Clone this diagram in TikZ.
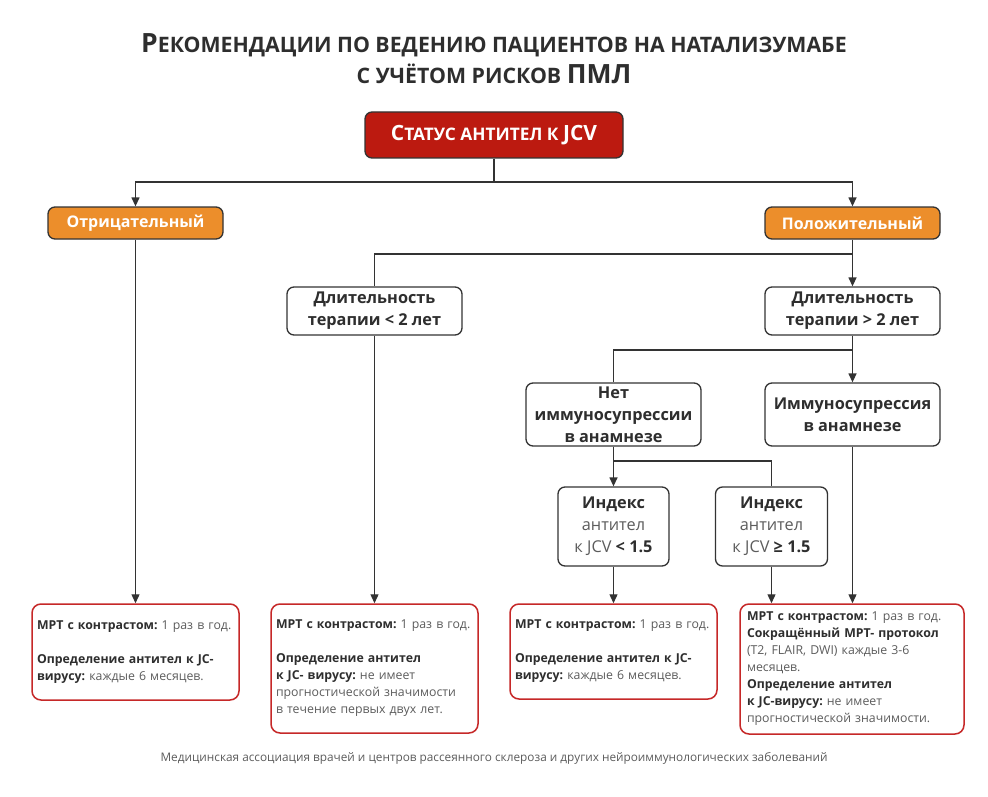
\documentclass[tikz,border=0pt]{standalone}
\usepackage{fontspec}
\setmainfont{Open Sans}
\usetikzlibrary{arrows.meta}
\definecolor{bdr}{HTML}{333333}
\definecolor{txt}{HTML}{2E2E2E}
\definecolor{gry}{HTML}{5C5C5C}
\definecolor{redfill}{HTML}{BC1A10}
\definecolor{orng}{HTML}{EC8E2B}
\definecolor{redbdr}{HTML}{C62828}
\frenchspacing
\begin{document}
\begin{tikzpicture}[x=1pt,y=-1pt,
  box/.style={draw=bdr,line width=1.3pt,rounded corners=7pt,fill=white,inner sep=0pt,align=center,text=txt,font=\bfseries\fontsize{16.3}{22}\selectfont},
  headbox/.style={box,fill=redfill,text=white},
  orbox/.style={box,fill=orng,text=white,font=\bfseries\fontsize{16}{22}\selectfont},
  recbox/.style={draw=redbdr,line width=1.5pt,rounded corners=9pt,fill=white,inner sep=0pt,align=left,text=gry,font=\frenchspacing\fontsize{12.3}{17}\selectfont},
  ln/.style={draw=bdr,line width=1.3pt},
  arr/.style={ln,-{Triangle[length=9pt,width=8pt]}}
]
\newcommand{\bt}[1]{\textbf{\textcolor{txt}{#1}}}
\useasboundingbox (0,0) rectangle (988,797);
\fill[white] (0,0) rectangle (988,797);

% title
\node (title1) at (494,45) {\bfseries\color{txt}{\fontsize{26.5}{28}\selectfont Р}{\fontsize{21.3}{28}\selectfont ЕКОМЕНДАЦИИ ПО ВЕДЕНИЮ ПАЦИЕНТОВ НА НАТАЛИЗУМАБЕ}};
\node (title2) at (494,74) {\bfseries\color{txt}{\fontsize{21.3}{28}\selectfont С УЧЁТОМ РИСКОВ }{\fontsize{26.5}{28}\selectfont ПМЛ}};

% nodes
\node[headbox,minimum width=258pt,minimum height=46pt] (status) at (494,135)
  {{\fontsize{21}{24}\selectfont С}{\fontsize{17.3}{24}\selectfont ТАТУС АНТИТЕЛ К }{\fontsize{21}{24}\selectfont JCV}};
\node[orbox,minimum width=175pt,minimum height=32pt] (neg) at (135.5,223) {Отрицательный};
\node[orbox,minimum width=175pt,minimum height=32pt] (pos) at (852.5,223) {Положительный};
\node[box,minimum width=175pt,minimum height=48pt] (dur1) at (374.5,311) {Длительность\\терапии < 2 лет};
\node[box,minimum width=175pt,minimum height=48pt] (dur2) at (852.5,311) {Длительность\\терапии > 2 лет};
\node[box,minimum width=175pt,minimum height=63pt] (noimm) at (613.5,414.5) {Нет\\иммуносупрессии\\в анамнезе};
\node[box,minimum width=175pt,minimum height=63pt] (imm) at (852.5,414.5) {Иммуносупрессия\\в анамнезе};
\node[box,minimum width=111pt,minimum height=79pt] (idx1) at (613.5,526.5)
  {Индекс\\{\mdseries\color{gry}антител}\\{\mdseries\color{gry}к JCV} < 1.5};
\node[box,minimum width=112pt,minimum height=79pt] (idx2) at (771.5,526.5)
  {Индекс\\{\mdseries\color{gry}антител}\\{\mdseries\color{gry}к JCV} ≥ 1.5};

\node[recbox,minimum width=207pt,minimum height=96pt,text width=197pt] (rec1) at (135.5,652)
  {\bt{МРТ с контрастом:} 1 раз в год.\\[17pt]\bt{Определение антител к JC-}\\\bt{вирусу:} каждые 6 месяцев.};
\node[recbox,minimum width=207pt,minimum height=129pt,text width=197pt] (rec2) at (374.5,668.5)
  {\bt{МРТ с контрастом:} 1 раз в год.\\[17pt]\bt{Определение антител}\\\bt{к JC- вирусу:} не имеет\\прогностической значимости\\в течение первых двух лет.};
\node[recbox,minimum width=207pt,minimum height=95pt,text width=197pt] (rec3) at (613.5,651.5)
  {\bt{МРТ с контрастом:} 1 раз в год.\\[17pt]\bt{Определение антител к JC-}\\\bt{вирусу:} каждые 6 месяцев.};
\node[recbox,minimum width=224pt,minimum height=130pt,text width=210pt] (rec4) at (852,669)
  {\bt{МРТ с контрастом:} 1 раз в год.\\\bt{Сокращённый МРТ- протокол}\\(T2, FLAIR, DWI) каждые 3-6\\месяцев.\\\bt{Определение антител}\\\bt{к JC-вирусу:} не имеет\\прогностической значимости.};

\node[text=gry,font=\fontsize{11.8}{14}\selectfont] (foot) at (494,758)
  {Медицинская ассоциация врачей и центров рассеянного склероза и других нейроиммунологических заболеваний};

% connectors
\coordinate (j1) at (494,182);
\draw[ln] (status.south) -- (j1);
\draw[arr] (j1) -| (neg.north);
\draw[arr] (j1) -| (pos.north);
\draw[arr] (neg.south) -- (rec1.north);

\coordinate (j2) at (852.5,254);
\draw[arr] (pos.south) -- (dur2.north);
\draw[ln] (j2) -| (dur1.north);
\draw[arr] (dur1.south) -- (rec2.north);

\coordinate (j3) at (852.5,350);
\draw[arr] (dur2.south) -- (imm.north);
\draw[ln] (j3) -| (noimm.north);

\coordinate (j4) at (613.5,461);
\draw[arr] (noimm.south) -- (idx1.north);
\draw[ln] (j4) -| (idx2.north);

\draw[arr] (idx1.south) -- (rec3.north);
\draw[arr] (idx2.south) -- (idx2.south |- rec4.north);
\draw[arr] (imm.south) -- (imm.south |- rec4.north);
\end{tikzpicture}
\end{document}
